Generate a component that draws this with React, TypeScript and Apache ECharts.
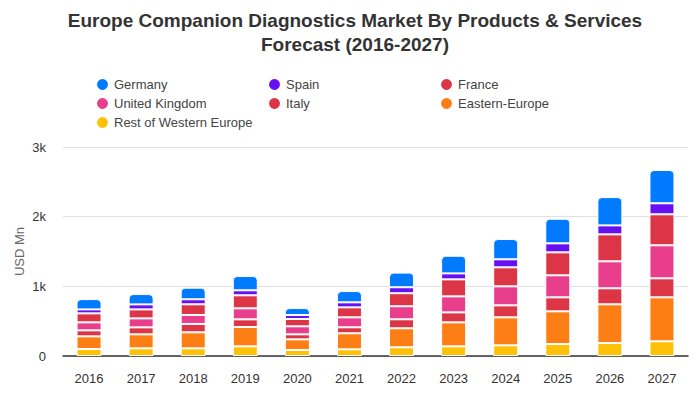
import React, { useEffect, useRef } from "react";
import * as echarts from "echarts";

const years = ["2016", "2017", "2018", "2019", "2020", "2021", "2022", "2023", "2024", "2025", "2026", "2027"];
const restOfWesternEurope = [100, 110, 110, 139, 86, 96, 125, 139, 153, 172, 187, 211];
const easternEurope = [182, 201, 230, 277, 153, 230, 273, 344, 402, 469, 555, 631];
const italy = [86, 100, 120, 110, 72, 86, 129, 143, 172, 201, 230, 273];
const unitedKingdom = [115, 129, 129, 158, 115, 143, 187, 230, 273, 316, 387, 474];
const france = [129, 129, 153, 187, 105, 143, 187, 244, 273, 330, 387, 445];
const spain = [57, 72, 72, 72, 57, 72, 86, 86, 115, 129, 129, 158];
const germany = [148, 148, 167, 205, 100, 162, 210, 253, 291, 353, 406, 478];

const seriesDefs = [
  { name: "Rest of Western Europe", data: restOfWesternEurope, color: "#ffc107" },
  { name: "Eastern-Europe", data: easternEurope, color: "#fd7e14" },
  { name: "Italy", data: italy, color: "#dc3545" },
  { name: "United Kingdom", data: unitedKingdom, color: "#e83e8c" },
  { name: "France", data: france, color: "#dc3545" },
  { name: "Spain", data: spain, color: "#6610f2" },
  { name: "Germany", data: germany, color: "#007bff" },
];

const legendCols = [
  ["Germany", "United Kingdom", "Rest of Western Europe"],
  ["Spain", "Italy"],
  ["France", "Eastern-Europe"],
];
const legendLefts = [90, 262, 434];

export default function App() {
  const ref = useRef<HTMLDivElement>(null);
  useEffect(() => {
    document.body.style.margin = "0";
    const chart = echarts.init(ref.current!, null, { renderer: "svg" });
    const font = "'Liberation Sans', Arial, sans-serif";
    chart.setOption({
      animation: false,
      textStyle: { fontFamily: font },
      title: {
        text: "Europe Companion Diagnostics Market By Products & Services\nForecast (2016-2027)",
        left: 350,
        top: 3,
        textAlign: "center",
        textStyle: { fontSize: 19, fontWeight: "bold", color: "#333", lineHeight: 24, fontFamily: font },
      },
      legend: legendCols.map((col, i) => ({
        data: col,
        orient: "vertical",
        left: legendLefts[i],
        top: 72,
        icon: "circle",
        itemWidth: 13,
        itemHeight: 13,
        itemGap: 4,
        textStyle: { fontSize: 13, color: "#444", fontFamily: font },
      })),
      grid: { left: 63, right: 12, top: 147, bottom: 44 },
      xAxis: {
        type: "category",
        data: years,
        axisTick: { show: false },
        axisLine: { lineStyle: { color: "#333", width: 1.5 } },
        axisLabel: { color: "#333", fontSize: 13, margin: 16 },
      },
      yAxis: {
        type: "value",
        min: 0,
        max: 3000,
        interval: 1000,
        name: "USD Mn",
        nameLocation: "middle",
        nameGap: 37,
        nameMoveOverlap: false,
        nameTextStyle: { color: "#666", fontSize: 13 },
        axisLabel: {
          color: "#333",
          fontSize: 13,
          margin: 17,
          formatter: (v: number) => (v === 0 ? "0" : v / 1000 + "k"),
        },
        splitLine: { lineStyle: { color: "#e0e0e0" } },
      },
      series: seriesDefs.map((s, i) => ({
        name: s.name,
        type: "bar",
        stack: "total",
        data: s.data,
        barWidth: "48%",
        itemStyle: {
          color: s.color,
          borderColor: "#fff",
          borderWidth: 1,
          borderRadius: i === seriesDefs.length - 1 ? [4, 4, 0, 0] : 0,
        },
      })),
    });
    return () => chart.dispose();
  }, []);
  return <div ref={ref} style={{ width: 700, height: 400 }} />;
}
